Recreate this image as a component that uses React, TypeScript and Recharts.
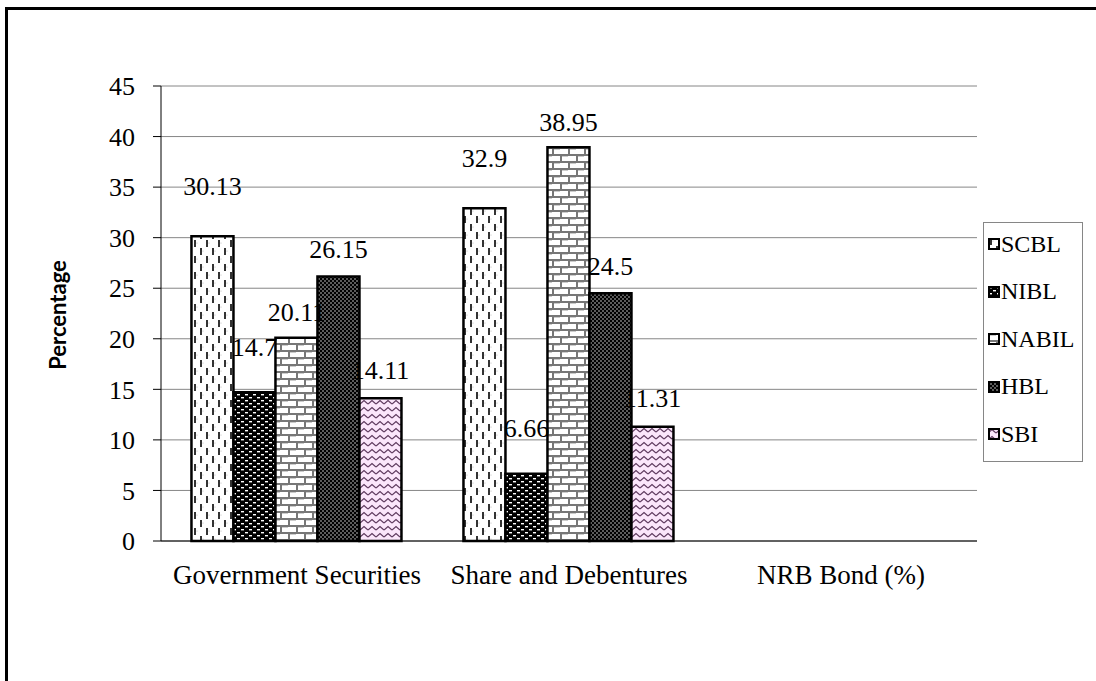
import React from "react";
import {
  BarChart,
  Bar,
  XAxis,
  YAxis,
  CartesianGrid,
  LabelList,
} from "recharts";

// categories and bank values (percentages)
const categories = ["Government Securities", "Share and Debentures", "NRB Bond (%)"];
const scbl = [30.13, 32.9, null];
const nibl = [14.7, 6.66, null];
const nabil = [20.11, 38.95, null];
const hbl = [26.15, 24.5, null];
const sbi = [14.11, 11.31, null];
const yTicks = [0, 5, 10, 15, 20, 25, 30, 35, 40, 45];

const data = categories.map((name, i) => ({
  name,
  SCBL: scbl[i],
  NIBL: nibl[i],
  NABIL: nabil[i],
  HBL: hbl[i],
  SBI: sbi[i],
}));

const series = [
  { key: "SCBL", fill: "url(#pScbl)", offset: 50 },
  { key: "NIBL", fill: "url(#pNibl)", offset: 45 },
  { key: "NABIL", fill: "url(#pNabil)", offset: 25 },
  { key: "HBL", fill: "url(#pHbl)", offset: 27 },
  { key: "SBI", fill: "url(#pSbi)", offset: 28 },
];

const serif = "Liberation Serif";

const makeLabel = (offset: number) => (props: any) => {
  const { x, y, width, value } = props;
  if (value == null) return null;
  return (
    <text
      x={x + width / 2}
      y={y - offset}
      textAnchor="middle"
      dominantBaseline="central"
      fontFamily={serif}
      fontSize={26}
      fill="#000"
    >
      {value}
    </text>
  );
};

const Patterns = () => (
  <defs>
    <pattern id="pScbl" width="12" height="16" patternUnits="userSpaceOnUse">
      <rect width="12" height="16" fill="#fff" />
      <circle cx="5" cy="3" r="0.6" fill="#bbb" />
      <circle cx="11" cy="11" r="0.6" fill="#bbb" />
      <rect x="2" y="0" width="2" height="7" fill="#333" />
      <rect x="8" y="8" width="2" height="7" fill="#333" />
    </pattern>
    <pattern id="pNibl" width="8" height="6" patternUnits="userSpaceOnUse">
      <rect width="8" height="6" fill="#000" />
      <rect x="1" y="1" width="3" height="1.4" fill="#fff" />
      <rect x="5" y="4" width="3" height="1.4" fill="#fff" />
    </pattern>
    <pattern id="pNabil" width="16" height="14" patternUnits="userSpaceOnUse">
      <rect width="16" height="14" fill="#fff" />
      <rect x="0" y="0" width="16" height="2" fill="#777" />
      <rect x="0" y="7" width="16" height="2" fill="#777" />
      <rect x="0" y="0" width="2" height="7" fill="#777" />
      <rect x="8" y="7" width="2" height="7" fill="#777" />
      <rect x="2" y="2" width="6" height="1" fill="#ccc" />
      <rect x="10" y="9" width="6" height="1" fill="#ccc" />
    </pattern>
    <pattern id="pHbl" width="4" height="4" patternUnits="userSpaceOnUse">
      <rect width="4" height="4" fill="#000" />
      <circle cx="1" cy="1" r="0.7" fill="#fff" />
      <circle cx="3" cy="3" r="0.7" fill="#fff" />
    </pattern>
    <pattern id="pSbi" width="8" height="7" patternUnits="userSpaceOnUse">
      <rect width="8" height="7" fill="#fbe6fb" />
      <path d="M0 5 L4 1.5 L8 5" fill="none" stroke="#5e3a5e" strokeWidth="1.2" />
    </pattern>
  </defs>
);

const NoTick = () => <g />;

const YTitle = () => (
  <text
    x={57}
    y={315}
    transform="rotate(-90 57 315)"
    textAnchor="middle"
    dominantBaseline="central"
    fontFamily="Lato, 'Open Sans', sans-serif"
    fontWeight="bold"
    fontSize={22}
    fill="#000"
  >
    Percentage
  </text>
);

export default function App() {
  return (
    <div
      style={{
        position: "absolute",
        left: 0,
        top: 0,
        width: 1096,
        height: 681,
        overflow: "hidden",
        background: "#fff",
      }}
    >
      <div
        style={{
          position: "absolute",
          left: 5,
          top: 7,
          width: 1300,
          height: 900,
          border: "3px solid #000",
        }}
      />
      <BarChart
        width={1096}
        height={681}
        data={data}
        margin={{ top: 86, right: 119, bottom: 80, left: 101 }}
        barCategoryGap="11.2%"
        barGap={0}
      >
        <Patterns />
        <CartesianGrid vertical={false} stroke="#868686" />
        <XAxis
          xAxisId="edge"
          type="number"
          domain={[0, 3]}
          ticks={[0, 1, 2, 3]}
          height={0}
          axisLine={false}
          tickLine={{ stroke: "#000" }}
          tickSize={8}
          tick={<NoTick />}
        />
        <XAxis
          xAxisId="cat"
          dataKey="name"
          height={60}
          axisLine={{ stroke: "#000" }}
          tickLine={false}
          tickSize={0}
          tickMargin={24}
          tick={{ fontFamily: serif, fontSize: 27, fill: "#000" }}
          interval={0}
        />
        <YAxis
          width={60}
          domain={[0, 45]}
          ticks={yTicks}
          axisLine={{ stroke: "#000" }}
          tickLine={{ stroke: "#000" }}
          tickSize={8}
          tickMargin={18}
          tick={{ fontFamily: serif, fontSize: 26, fill: "#000" }}
          label={{ content: <YTitle /> }}
        />
        {series.map((s) => (
          <Bar
            key={s.key}
            xAxisId="cat"
            dataKey={s.key}
            fill={s.fill}
            stroke="#000"
            strokeWidth={2.5}
            isAnimationActive={false}
          >
            <LabelList dataKey={s.key} content={makeLabel(s.offset)} />
          </Bar>
        ))}
      </BarChart>
      <div
        style={{
          position: "absolute",
          left: 983,
          top: 222,
          width: 100,
          height: 240,
          border: "1px solid #868686",
          background: "#fff",
          boxSizing: "border-box",
          fontFamily: serif,
          fontSize: 24,
          color: "#000",
        }}
      >
        {series.map((s, i) => (
          <div
            key={s.key}
            style={{
              position: "absolute",
              left: 4,
              top: 7 + i * 47.5,
              height: 28,
              display: "flex",
              alignItems: "center",
              whiteSpace: "nowrap",
            }}
          >
            <svg width={12} height={12} style={{ marginRight: 1 }}>
              <rect x={1} y={1} width={10} height={10} fill={s.fill} stroke="#000" strokeWidth={2} />
            </svg>
            {s.key}
          </div>
        ))}
      </div>
    </div>
  );
}
